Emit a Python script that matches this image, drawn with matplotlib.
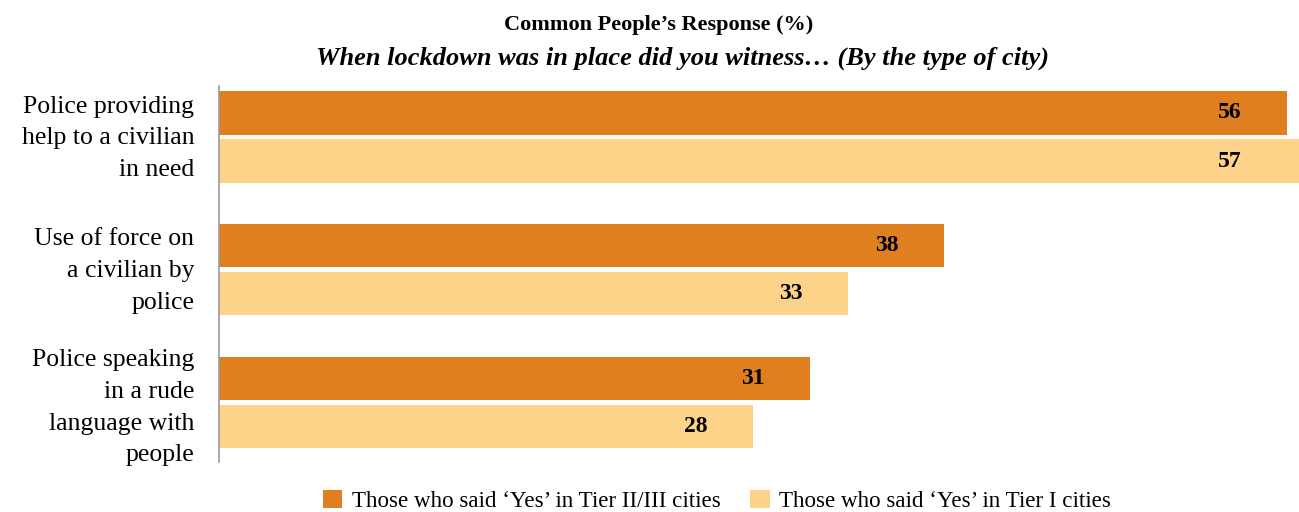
import matplotlib
matplotlib.use("Agg")
import matplotlib.pyplot as plt
from matplotlib.patches import Patch

plt.rcParams['font.family'] = ['Liberation Serif', 'DejaVu Serif']

categories = [
    "Police providing\nhelp to a civilian\nin need",
    "Use of force on\na civilian by\npolice",
    "Police speaking\nin a rude\nlanguage with\npeople",
]
tier23 = [56, 38, 31]
tier1 = [57, 33, 28]
series_names = ["Those who said \u2018Yes\u2019 in Tier II/III cities",
                "Those who said \u2018Yes\u2019 in Tier I cities"]
title = "Common People\u2019s Response (%)"
subtitle = "When lockdown was in place did you witness\u2026 (By the type of city)"

dark = "#DF7F1F"
light = "#FDD38A"

fig = plt.figure(figsize=(12.99, 5.12), dpi=100)
ax = fig.add_axes([219 / 1299, 1 - 462 / 512, 1 - 219 / 1299, (462 - 86) / 512])

xmax = 56.63
bar_h = 0.325
off = 0.181
ys = range(len(categories))

for i in ys:
    ax.barh(i - off, tier23[i], height=bar_h, color=dark, edgecolor="none")
    ax.barh(i + off, tier1[i], height=bar_h, color=light, edgecolor="none")
    ax.text(min(tier23[i], 56) - 3.0, i - off, str(tier23[i]), ha="center", va="center",
            fontsize=17, fontweight="bold", color="black")
    ax.text(min(tier1[i], 56) - 3.0, i + off, str(tier1[i]), ha="center", va="center",
            fontsize=17, fontweight="bold", color="black")
    # category label, right-aligned left of the axis line
    ax.text(-1.3, i + (0.04 if i == 2 else 0.01), categories[i], ha="right", va="center",
            multialignment="right", fontsize=18.5, linespacing=1.57, clip_on=False)

ax.set_xlim(0, xmax)
ax.set_ylim(2.448, -0.384)
ax.set_yticks([])
ax.set_xticks([])
for s in ["top", "right", "bottom"]:
    ax.spines[s].set_visible(False)
ax.spines["left"].set_color("#9a9a9a")
ax.spines["left"].set_linewidth(1.2)

fig.text(659 / 1299, 1 - 25 / 512, title, ha="center", va="center",
         fontsize=16, fontweight="bold")
fig.text(682 / 1299, 1 - 58 / 512, subtitle, ha="center", va="center",
         fontsize=19, fontweight="bold", fontstyle="italic")

handles = [Patch(facecolor=dark, edgecolor="none"), Patch(facecolor=light, edgecolor="none")]
fig.legend(handles, series_names, loc="center", bbox_to_anchor=(717 / 1299, 1 - 501 / 512),
           ncol=2, frameon=False, fontsize=16.6, handlelength=0.85, handleheight=0.85,
           handletextpad=0.4, columnspacing=1.3)

fig.savefig("out.png", dpi=100)
